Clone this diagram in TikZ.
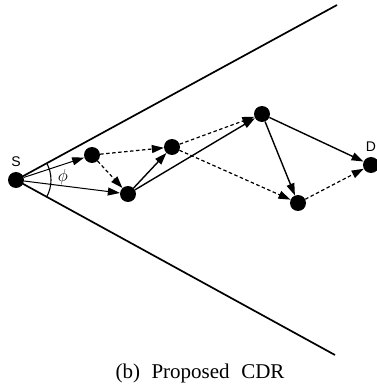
\documentclass[tikz,border=0pt]{standalone}
\usepackage{fontspec}
\setmainfont{Liberation Serif}
\setsansfont{Liberation Sans}
\usetikzlibrary{arrows.meta, positioning}

\begin{document}
\begin{tikzpicture}[
        x=1pt, y=1pt,
        node distance=5pt,
        host/.style={circle, fill=black, inner sep=0pt, minimum size=16pt},
        tag/.style={font=\sffamily\fontsize{14}{14}\selectfont, inner sep=0pt},
        hop/.style={-{Triangle[length=12pt, width=8pt]}, line width=1.4pt},
        probe/.style={-{Triangle[length=12pt, width=8pt]}, line width=1.2pt, dash pattern=on 3.5pt off 2.5pt},
        cone/.style={line width=1.7pt}
    ]
    \useasboundingbox (0,0) rectangle (377,384);

    % hosts
    \node[host] (S) at (16,204) {};
    \node[host] (A) at (92,229) {};
    \node[host] (B) at (128,190) {};
    \node[host] (C) at (172,237) {};
    \node[host] (E) at (262,270) {};
    \node[host] (F) at (298,181) {};
    \node[host] (D) at (371,219) {};
    \node[tag, above=of S] (Slabel) {S};
    \node[tag, above=of D] (Dlabel) {D};

    % search cone
    \coordinate (top) at (337,379);
    \coordinate (bottom) at (335,29);
    \draw[cone] (S.center) -- (top);
    \draw[cone] (S.center) -- (bottom);
    \draw[line width=1.1pt] (S.center) ++(-28.6:35) arc[start angle=-28.6, end angle=28.6, radius=35];
    \node[font=\fontsize{17}{17}\selectfont] (phi) at (63,207) {$\phi$};

    % forwarding
    \draw[hop, line width=1pt] (S) -- (A);
    \draw[hop, line width=1pt] (S) -- (B);
    \draw[probe] (A) -- (B);
    \draw[probe] (A) -- (C);
    \draw[hop] (B) -- (C);
    \draw[hop] (B) -- (E);
    \draw[probe] (C) -- (E);
    \draw[probe] (C) -- (F);
    \draw[hop] (E) -- (F);
    \draw[hop] (E) -- (D);
    \draw[probe] (F) -- (D);

    % caption
    \node[font=\fontsize{21}{22}\selectfont, anchor=south, inner sep=0pt] (caption) at (200,1) {(b)\hspace{0.55em}Proposed\hspace{0.55em}CDR};
\end{tikzpicture}
\end{document}
